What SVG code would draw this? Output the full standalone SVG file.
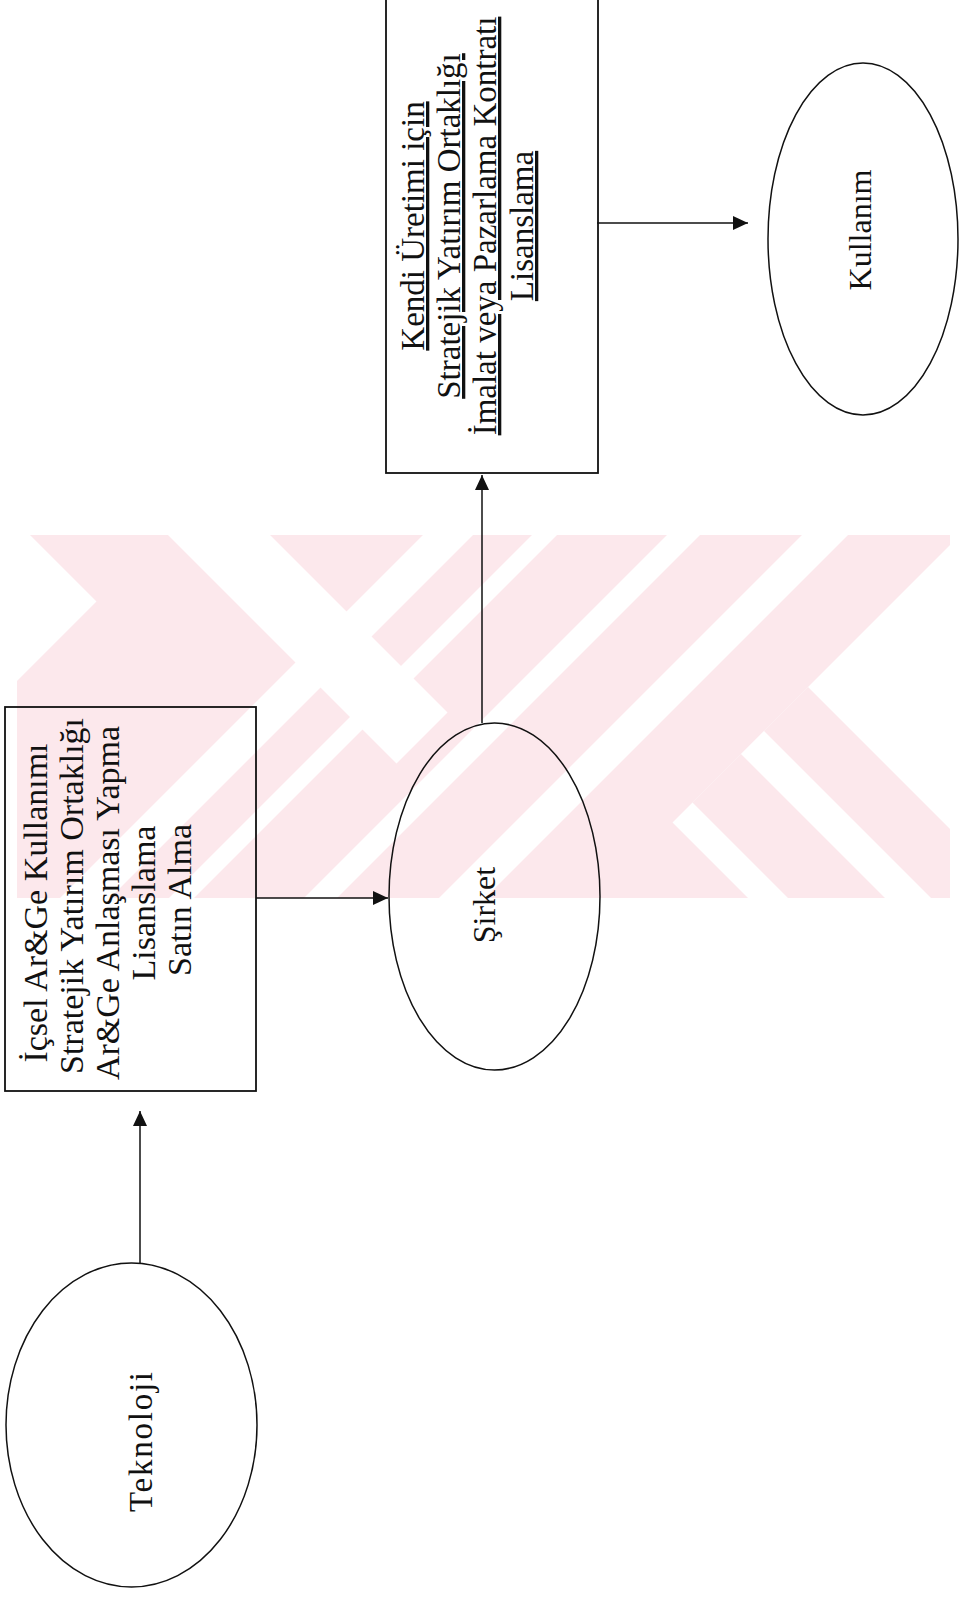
<svg xmlns="http://www.w3.org/2000/svg" width="960" height="1601" viewBox="0 0 960 1601">
  <style>
    .shape { fill: none; stroke: #111; stroke-width: 1.5; }
    .box { fill: none; stroke: #111; stroke-width: 1.8; }
    .conn { fill: none; stroke: #111; stroke-width: 1.5; marker-end: url(#arrow); }
    .lbl { font-family: "Liberation Serif", "Times New Roman", serif; font-size: 32px; fill: #111; text-anchor: middle; }
    .b1 { font-size: 34px; }
    .b2 { font-size: 33px; }
    .ul { text-decoration: underline; }
    .wm { fill: #fce8ec; }
    .wmw { fill: #ffffff; }
  </style>
  <defs>
    <marker id="arrow" markerUnits="userSpaceOnUse" markerWidth="15" markerHeight="14" viewBox="0 0 15 14" refX="15" refY="7" orient="auto">
      <path d="M0,0 L15,7 L0,14 z" fill="#111"/>
    </marker>
    <clipPath id="wmclip">
      <rect x="17" y="535" width="933" height="363"/>
    </clipPath>
  </defs>
  <rect width="960" height="1601" fill="#ffffff"/>

  <g id="watermark" clip-path="url(#wmclip)">
    <polygon class="wm" points="198,500 995,500 545,950 -252,950"/>
    <polygon class="wm" points="-5,500 350,500 800,950 445,950"/>
    <polygon class="wm" points="808,687 1121,1000 890,1000 692.5,802.5"/>
    <polygon class="wmw" points="133,500 235,500 447.5,712.5 396.5,763.5"/>
    <polygon class="wmw" points="764,731 1033,1000 987,1000 741,754"/>
    <polygon class="wmw" points="458,500 508,500 58,950 8,950"/>
    <polygon class="wmw" points="567,500 592,500 142,950 117,950"/>
    <polygon class="wmw" points="702,500 735,500 285,950 252,950"/>
    <polygon class="wmw" points="837,500 883,500 433,950 387,950"/>
  </g>

  <g id="connectors">
    <path class="conn" d="M140,1263 V1111"/>
    <path class="conn" d="M256,898 H388"/>
    <path class="conn" d="M482,723 V475"/>
    <path class="conn" d="M597,223 H748"/>
  </g>

  <g id="node-teknoloji">
    <ellipse class="shape" cx="131.5" cy="1425" rx="125.5" ry="162"/>
    <text class="lbl" transform="translate(152,1442) rotate(-90)" style="font-size:33px" textLength="140">Teknoloji</text>
  </g>

  <g id="node-yontemler">
    <rect class="box" x="5" y="707" width="251" height="384"/>
    <text class="lbl b1" transform="translate(47,903) rotate(-90)">İçsel Ar&amp;Ge Kullanımı</text>
    <text class="lbl b1" transform="translate(83,896) rotate(-90)">Stratejik Yatırım Ortaklığı</text>
    <text class="lbl b1" transform="translate(119,903) rotate(-90)">Ar&amp;Ge Anlaşması Yapma</text>
    <text class="lbl b1" transform="translate(155,903) rotate(-90)">Lisanslama</text>
    <text class="lbl b1" transform="translate(191,900) rotate(-90)">Satın Alma</text>
  </g>

  <g id="node-sirket">
    <ellipse class="shape" cx="494.5" cy="896.5" rx="105.5" ry="173.5"/>
    <text class="lbl" transform="translate(495,905) rotate(-90)">Şirket</text>
  </g>

  <g id="node-ticarilestirme">
    <rect class="box" x="386" y="-10" width="212" height="483"/>
    <text class="lbl b2 ul" transform="translate(424,226) rotate(-90)">Kendi Üretimi için</text>
    <text class="lbl b2 ul" transform="translate(460,226) rotate(-90)">Stratejik Yatırım Ortaklığı</text>
    <text class="lbl b2 ul" transform="translate(496,226) rotate(-90)">İmalat veya Pazarlama Kontratı</text>
    <text class="lbl b2 ul" transform="translate(533,226) rotate(-90)">Lisanslama</text>
  </g>

  <g id="node-kullanim">
    <ellipse class="shape" cx="863" cy="239" rx="95" ry="176"/>
    <text class="lbl" transform="translate(871,230) rotate(-90)" style="font-size:32px">Kullanım</text>
  </g>
</svg>
